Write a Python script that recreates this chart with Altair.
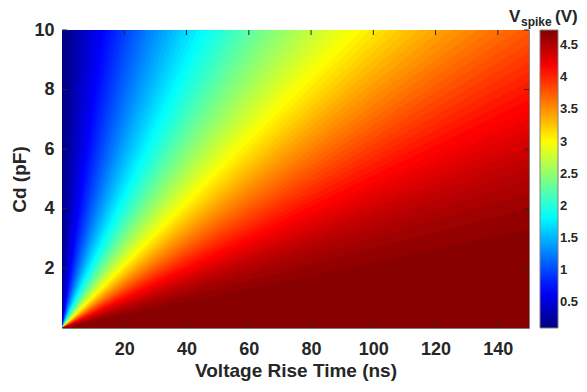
import math
import altair as alt
import pandas as pd

# ---- contour levels (V) of the filled contour plot ----
levels = [
    0.10, 0.15, 0.20, 0.25, 0.30, 0.35, 0.40, 0.45, 0.50, 0.55,
    0.60, 0.65, 0.70, 0.75, 0.80, 0.85, 0.90, 0.95, 1.00, 1.05,
    1.10, 1.15, 1.20, 1.25, 1.30, 1.35, 1.40, 1.45, 1.50, 1.55,
    1.60, 1.65, 1.70, 1.75, 1.80, 1.85, 1.90, 1.95, 2.00, 2.05,
    2.10, 2.15, 2.20, 2.25, 2.30, 2.35, 2.40, 2.45, 2.50, 2.55,
    2.60, 2.65, 2.70, 2.75, 2.80, 2.85, 2.90, 2.95, 3.00, 3.05,
    3.10, 3.15, 3.20, 3.25, 3.30, 3.35, 3.40, 3.45, 3.50, 3.55,
    3.60, 3.65, 3.70, 3.75,
    3.80, 3.85, 3.90, 3.95, 4.00, 4.05, 4.10, 4.15, 4.20, 4.25,
    4.30, 4.35, 4.40, 4.45, 4.50, 4.55, 4.60, 4.65, 4.70,
]
# rise time (ns) where each contour line meets the top edge (Cd = 10 pF), levels 0.10 .. 3.75
top_edge_t = [
    0.20, 1.23, 2.27, 3.33, 4.39, 5.47, 6.55, 7.66, 8.77, 9.90,
    11.04, 12.19, 13.36, 14.54, 15.74, 16.95, 18.18, 19.43, 20.69, 21.97,
    23.26, 24.58, 25.91, 27.26, 28.63, 30.02, 31.44, 32.87, 34.32, 35.80,
    37.30, 38.83, 40.38, 41.95, 43.55, 45.18, 46.84, 48.53, 50.25, 52.00,
    53.78, 55.60, 57.45, 59.34, 61.26, 63.23, 65.24, 67.29, 69.39, 71.53,
    73.73, 75.97, 78.27, 80.63, 83.05, 85.53, 88.07, 90.69, 93.38, 96.15,
    99.00, 101.95, 104.98, 108.12, 111.36, 114.72, 118.20, 121.81, 125.57, 129.48,
    133.56, 137.82, 142.27, 146.96,
]
# Cd (pF) where each contour line meets the right edge (t = 150 ns), levels 3.80 .. 4.70
right_edge_cd = [
    9.88, 9.55, 9.23, 8.91, 8.59, 8.28, 7.96, 7.65, 7.33, 7.02,
    6.70, 6.37, 6.04, 5.69, 5.33, 4.94, 4.51, 4.00, 3.32,
]
v_min, v_max = 0.09, 4.74
T_MAX, CD_MAX = 150.0, 10.0
x_ticks = [20, 40, 60, 80, 100, 120, 140]
y_ticks = [2, 4, 6, 8, 10]
cbar_ticks = [0.5, 1, 1.5, 2, 2.5, 3, 3.5, 4, 4.5]

# every contour line is a ray from the origin: Cd = t / ratio.
# region "V >= level" lies below its ray; regions are painted from the lowest level up.
ratios = [t / CD_MAX for t in top_edge_t] + [T_MAX / c for c in right_edge_cd]
band_v = [v_min] + levels
band_lo = [0.0] + ratios

rows = []
for k, (v, rlo) in enumerate(zip(band_v, band_lo)):
    xs = {0.0, T_MAX}
    if rlo > 0 and CD_MAX * rlo < T_MAX:
        xs.add(CD_MAX * rlo)
    for x in sorted(xs):
        upper = CD_MAX if rlo == 0 else min(x / rlo, CD_MAX)
        rows.append({"band": k, "v": v, "t": x, "hi": upper})
df = pd.DataFrame(rows)

W, H = 467, 298
FONT = "Liberation Sans"
TXT = "#262626"
X_TITLE = "Voltage Rise Time (ns)"
Y_TITLE = "Cd (pF)"

jet_pos = [0, 0.125, 0.375, 0.625, 0.875, 1]
jet_col = ["#000080", "#0000ff", "#00ffff", "#ffff00", "#ff0000", "#800000"]
jet_dom = [v_min + p * (v_max - v_min) for p in jet_pos]

xs_ = alt.Scale(domain=[0, T_MAX], nice=False, zero=False)
ys_ = alt.Scale(domain=[0, CD_MAX], nice=False, zero=False)
x_axis = alt.Axis(values=x_ticks, labelPadding=12, titlePadding=3)
y_axis = alt.Axis(values=y_ticks, labelPadding=8, titlePadding=4)
legend = alt.Legend(type="gradient", orient="none", legendX=478, legendY=0,
                    direction="vertical", title=None,
                    gradientLength=H, gradientThickness=18,
                    values=cbar_ticks, format=".2~g", labelOverlap=False,
                    labelFont=FONT, labelFontSize=13,
                    labelFontWeight="bold", labelColor=TXT,
                    labelOffset=2, gradientStrokeColor="#808080",
                    gradientStrokeWidth=1)
color = alt.Color("v:Q", scale=alt.Scale(domain=jet_dom, range=jet_col, interpolate="rgb"),
                  legend=legend)

bands = [
    alt.Chart(df[df["band"] == k]).mark_area(interpolate="linear").encode(
        x=alt.X("t:Q", scale=xs_, title=X_TITLE, axis=x_axis),
        y=alt.Y("hi:Q", scale=ys_, stack=None, title=Y_TITLE, axis=y_axis),
        color=color,
    )
    for k in range(len(band_v))
]

xt = pd.DataFrame({"t": x_ticks})
yt = pd.DataFrame({"hi": y_ticks})
tick_color = "#262626"
xa = alt.X("t:Q", scale=xs_, title=X_TITLE, axis=x_axis)
ya = alt.Y("hi:Q", scale=ys_, title=Y_TITLE, axis=y_axis)
ticks = [
    alt.Chart(xt).mark_rule(color=tick_color, strokeWidth=1).encode(x=xa, y=alt.value(H), y2=alt.value(H - 5)),
    alt.Chart(xt).mark_rule(color=tick_color, strokeWidth=1).encode(x=xa, y=alt.value(0), y2=alt.value(5)),
    alt.Chart(yt).mark_rule(color=tick_color, strokeWidth=1).encode(y=ya, x=alt.value(0), x2=alt.value(5)),
    alt.Chart(yt).mark_rule(color=tick_color, strokeWidth=1).encode(y=ya, x=alt.value(W), x2=alt.value(W - 5)),
]

t_v = alt.Chart(pd.DataFrame({"s": ["V"]})).mark_text(
    font=FONT, fontSize=17, fontWeight="bold", color=TXT, align="left", baseline="alphabetic"
).encode(text="s:N", x=alt.value(447), y=alt.value(-8))
t_sub = alt.Chart(pd.DataFrame({"s": ["spike"]})).mark_text(
    font=FONT, fontSize=12, fontWeight="bold", color=TXT, align="left", baseline="alphabetic"
).encode(text="s:N", x=alt.value(459), y=alt.value(-4))
t_unit = alt.Chart(pd.DataFrame({"s": ["(V)"]})).mark_text(
    font=FONT, fontSize=17, fontWeight="bold", color=TXT, align="left", baseline="alphabetic"
).encode(text="s:N", x=alt.value(493), y=alt.value(-8))

chart = alt.layer(*bands, *ticks, t_v, t_sub, t_unit).properties(
    width=W, height=H,
    autosize=alt.AutoSizeParams(type="none"),
    padding={"left": 54, "top": 22, "right": 50, "bottom": 56},
    background="white",
).configure_axis(
    labelFont=FONT, labelFontSize=18, labelFontWeight="bold", labelColor=TXT,
    titleFont=FONT, titleFontSize=19, titleFontWeight="bold", titleColor=TXT,
    ticks=False, domain=False, grid=False,
).configure_view(stroke="#808080", strokeWidth=1)

chart.save("out.html", embed_options={"renderer": "svg", "actions": False})
